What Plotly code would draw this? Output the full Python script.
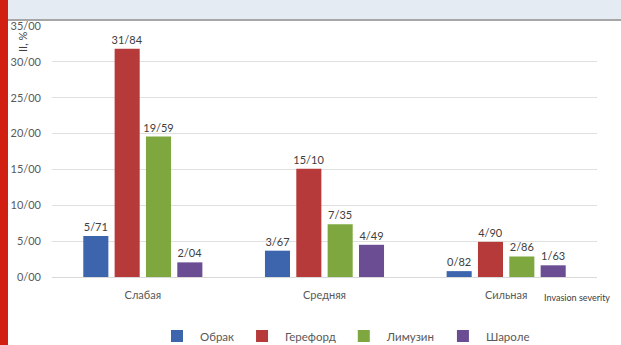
import plotly.graph_objects as go

categories = ["Слабая", "Средняя", "Сильная"]
series_names = ["Обрак", "Гереформ".replace("м", "д"), "Лимузин", "Шароле"]
obrak = [5.71, 3.67, 0.82]
hereford = [31.84, 15.10, 4.90]
limousin = [19.59, 7.35, 2.86]
charolais = [2.04, 4.49, 1.63]
tick_vals = [0, 5, 10, 15, 20, 25, 30, 35]
tick_text = ["0/00", "5/00", "10/00", "15/00", "20/00", "25/00", "30/00", "35/00"]
colors = ["#3c65ae", "#b63a3a", "#7ea83f", "#6a4d93"]

W, H = 621, 345
L, R, T, B = 52, 24, 26, 68
pw = W - L - R
ph = H - T - B

def px_x(p):
    return (p - L) / pw

def px_y(p):
    return (H - B - p) / ph

fig = go.Figure()
for name, vals, c in zip(series_names, [obrak, hereford, limousin, charolais], colors):
    fig.add_trace(go.Bar(
        x=categories, y=vals, name=name, marker_color=c, marker_line_width=0,
        text=[f"{v:.2f}".replace(".", "/") for v in vals],
        textposition="outside", cliponaxis=False, constraintext="none",
        textfont=dict(size=11, color="#404040", family="Lato"),
    ))

fig.update_layout(
    width=W, height=H,
    margin=dict(l=L, r=R, t=T, b=B, autoexpand=False),
    paper_bgcolor="white", plot_bgcolor="white",
    barmode="group", bargap=0.31, bargroupgap=0.2,
    font=dict(family="Lato", size=11, color="#595959"),
    showlegend=True,
    legend=dict(orientation="h", xref="container", yref="container",
                x=154 / W, xanchor="left", y=(H - 336) / H, yanchor="middle",
                font=dict(size=11.5, color="#595959"),
                itemwidth=36, bgcolor="rgba(0,0,0,0)"),
)
fig.update_xaxes(showgrid=False, showline=True, linecolor="#d9d9d9", ticks="",
                 tickfont=dict(size=11, color="#595959"), ticklabelstandoff=8)
fig.update_yaxes(range=[0, 35], tickvals=tick_vals, ticktext=tick_text,
                 showgrid=True, gridcolor="#e0e0e0", gridwidth=1, zeroline=False,
                 showline=False, tickfont=dict(size=11, color="#595959"),
                 ticklabelstandoff=10)

# header band, red strip
fig.add_shape(type="rect", xref="paper", yref="paper", x0=px_x(8), x1=px_x(W), y0=px_y(0), y1=px_y(19),
              fillcolor="#e4ebf3", line_width=0, layer="below")
fig.add_shape(type="line", xref="paper", yref="paper", x0=px_x(8), x1=px_x(W), y0=px_y(20), y1=px_y(20),
              line=dict(color="#a6a6a6", width=2))
fig.add_shape(type="rect", xref="paper", yref="paper", x0=px_x(0), x1=px_x(8), y0=px_y(0), y1=px_y(H),
              fillcolor="#d11f11", line_width=0)

fig.add_annotation(text="II, %", xref="paper", yref="paper", x=px_x(22), y=px_y(42),
                   xanchor="center", yanchor="middle",
                   showarrow=False, textangle=-90, font=dict(size=11, color="#404040"))
fig.add_annotation(text="Invasion severity", xref="paper", yref="paper", x=px_x(577), y=px_y(297),
                   xanchor="center", yanchor="middle",
                   showarrow=False, font=dict(size=9, color="#404040"))

fig.write_html("out.html")
